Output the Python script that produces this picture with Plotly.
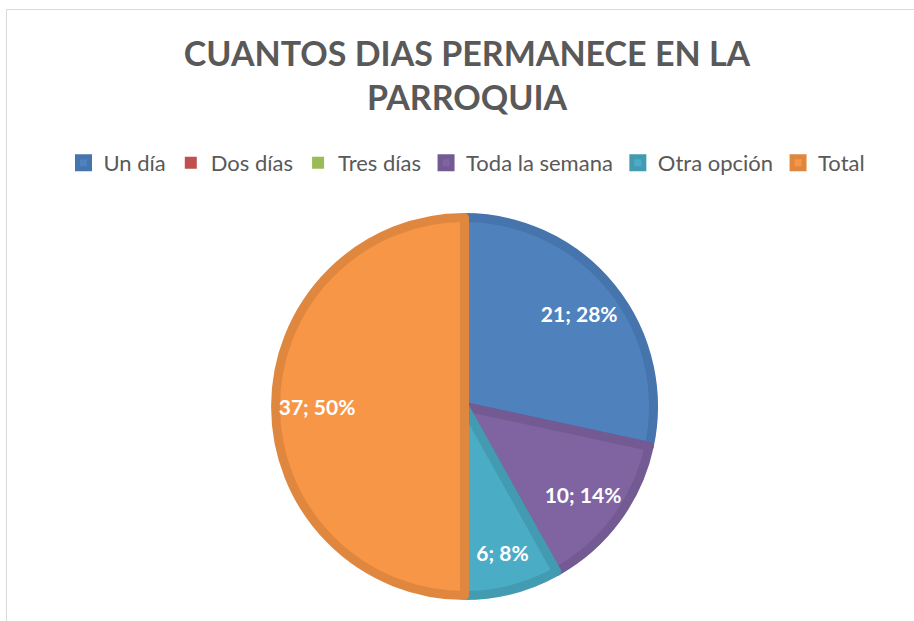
import plotly.graph_objects as go

categories = ["Un día", "Dos días", "Tres días", "Toda la semana", "Otra opción", "Total"]
values = [21, 0, 0, 10, 6, 37]
fill_colors = ["#4F81BD", "#C0504D", "#9BBB59", "#8064A2", "#4BACC6", "#F79646"]
border_colors = ["#4674AC", "#AD4845", "#8BA850", "#735A92", "#439BB2", "#E0873F"]
title_text = "CUANTOS DIAS PERMANECE EN LA<br>PARROQUIA"

W, H = 914, 621
cx, cy, rad = 464.5, 406.5, 189.0
dom_x = [(cx - rad) / W, (cx + rad) / W]
dom_y = [(H - cy - rad) / H, (H - cy + rad) / H]

line_w = [9 if v > 0 else 0 for v in values]
templates = ["%{value}; %{percent:.0%}" if v > 0 else "" for v in values]

fig = go.Figure()
fig.add_trace(go.Pie(
    labels=categories, values=values, sort=False, direction="clockwise", rotation=0,
    marker=dict(colors=fill_colors, line=dict(color=border_colors, width=line_w)),
    textinfo="none", hoverinfo="skip", domain=dict(x=dom_x, y=dom_y),
))
# transparent ring to place labels near the outer part of each slice
fig.add_trace(go.Pie(
    labels=categories, values=values, sort=False, direction="clockwise", rotation=0,
    hole=0.56, showlegend=False,
    marker=dict(colors=["rgba(0,0,0,0)"] * len(values), line=dict(width=0)),
    texttemplate=templates, textposition="inside", insidetextorientation="horizontal",
    insidetextfont=dict(family="Lato", size=21, color="white", weight="bold"),
    hoverinfo="skip", domain=dict(x=dom_x, y=dom_y),
))

fig.add_shape(type="rect", xref="paper", yref="paper",
              x0=6.5 / W, x1=1.02, y0=-0.02, y1=1 - 9.5 / H,
              line=dict(color="#D9D9D9", width=1), fillcolor="rgba(0,0,0,0)")

fig.update_layout(
    width=W, height=H,
    margin=dict(l=0, r=0, t=0, b=0),
    paper_bgcolor="white", plot_bgcolor="white",
    title=dict(text=title_text, x=467 / W, xanchor="center", y=1 - 66 / H, yanchor="top",
               font=dict(family="Lato", size=34, color="#595959", weight="bold")),
    legend=dict(orientation="h", x=467 / W, xanchor="center", y=1 - 142 / H, yanchor="top",
                font=dict(family="Lato", size=22, color="#595959"),
                traceorder="normal", itemclick=False),
    showlegend=True,
)

fig.write_html("out.html", post_script="document.body.style.margin='0';",
               config={"displayModeBar": False})
